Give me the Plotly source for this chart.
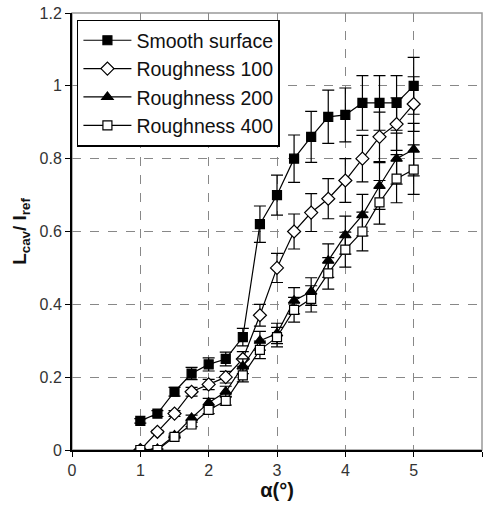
import plotly.graph_objects as go

alpha = [1, 1.25, 1.5, 1.75, 2, 2.25, 2.5, 2.75, 3, 3.25, 3.5, 3.75, 4, 4.25, 4.5, 4.75, 5]

smooth = [0.08, 0.10, 0.16, 0.21, 0.235, 0.25, 0.31, 0.62, 0.70, 0.80, 0.86, 0.915, 0.92, 0.953, 0.953, 0.953, 1.00]
smooth_err = [0.006, 0.008, 0.012, 0.017, 0.018, 0.019, 0.024, 0.05, 0.055, 0.065, 0.07, 0.073, 0.074, 0.075, 0.075, 0.075, 0.078]

rough100 = [0.0, 0.05, 0.10, 0.16, 0.18, 0.20, 0.25, 0.37, 0.50, 0.60, 0.652, 0.69, 0.74, 0.80, 0.86, 0.895, 0.95]
rough100_err = [0.0, 0.004, 0.008, 0.012, 0.014, 0.016, 0.02, 0.03, 0.04, 0.048, 0.052, 0.055, 0.06, 0.064, 0.068, 0.072, 0.075]

rough200 = [0.0, 0.003, 0.04, 0.088, 0.13, 0.16, 0.23, 0.30, 0.32, 0.41, 0.435, 0.52, 0.59, 0.645, 0.725, 0.80, 0.825]
rough200_err = [0.0, 0.0, 0.004, 0.008, 0.012, 0.015, 0.02, 0.026, 0.028, 0.036, 0.038, 0.046, 0.052, 0.057, 0.064, 0.07, 0.072]

rough400 = [0.0, 0.0, 0.036, 0.07, 0.11, 0.135, 0.205, 0.275, 0.31, 0.385, 0.415, 0.485, 0.55, 0.60, 0.68, 0.745, 0.77]
rough400_err = [0.0, 0.0, 0.003, 0.006, 0.01, 0.012, 0.018, 0.024, 0.027, 0.034, 0.036, 0.043, 0.048, 0.053, 0.06, 0.066, 0.068]

series = [
    ("Smooth surface", smooth, smooth_err, "square", "black", 9),
    ("Roughness 100", rough100, rough100_err, "diamond", "white", 10),
    ("Roughness 200", rough200, rough200_err, "triangle-up", "black", 10),
    ("Roughness 400", rough400, rough400_err, "square", "white", 9),
]

fig = go.Figure()
for name, y, err, sym, fill, size in series:
    fig.add_trace(go.Scatter(
        x=alpha, y=y, name=name, mode="lines+markers",
        line=dict(color="black", width=1.2),
        marker=dict(symbol=sym, color=fill, size=size,
                    line=dict(color="black", width=1.2)),
        error_y=dict(type="data", array=err, visible=True,
                     color="black", thickness=1.2, width=6),
    ))

font = "Liberation Sans, Arial, sans-serif"
fig.update_layout(
    width=486, height=510,
    margin=dict(l=72, r=4, t=13, b=60),
    paper_bgcolor="white", plot_bgcolor="white",
    font=dict(family=font, color="#222", size=16),
    showlegend=True,
    legend=dict(
        x=0.012, y=0.985, xanchor="left", yanchor="top",
        bgcolor="white", bordercolor="black", borderwidth=1.5,
        font=dict(size=19.5, color="#111"),
        itemwidth=48,
        tracegroupgap=0,
    ),
    xaxis=dict(
        range=[0, 6], tickvals=[0, 1, 2, 3, 4, 5, 6],
        showgrid=True, gridcolor="#888", griddash="dash", gridwidth=1,
        zeroline=False, showline=True, linecolor="black", linewidth=2,
        ticks="outside", ticklen=5, tickcolor="black",
        tickfont=dict(size=16, color="#333"),
        title=dict(text="<b>α(°)</b>", font=dict(size=20, color="#111"), standoff=4),
    ),
    yaxis=dict(
        range=[0, 1.2], tickvals=[0, 0.2, 0.4, 0.6, 0.8, 1.0, 1.2],
        ticktext=["0", "0.2", "0.4", "0.6", "0.8", "1", "1.2"],
        showgrid=True, gridcolor="#888", griddash="dash", gridwidth=1,
        zeroline=False, showline=True, linecolor="black", linewidth=2,
        ticks="outside", ticklen=5, tickcolor="black",
        tickfont=dict(size=16, color="#333"),
        title=dict(text="<b>L<sub>cav</sub>/ l<sub>ref</sub></b>", font=dict(size=19, color="#111"), standoff=8),
    ),
    shapes=[dict(type="rect", xref="paper", yref="paper", x0=0, y0=0, x1=1, y1=1,
                 line=dict(color="#999", width=1.5), layer="below")],
)

fig.write_html("out.html")
